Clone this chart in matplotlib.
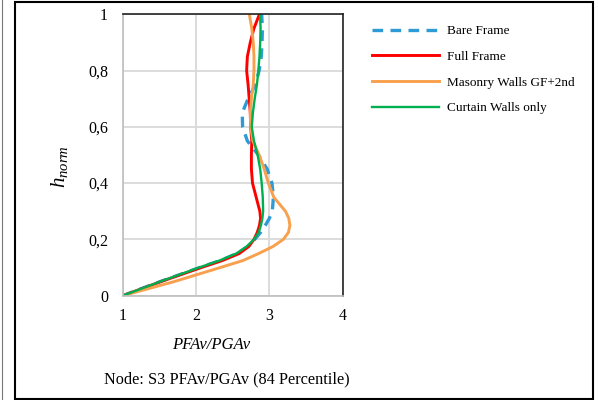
import matplotlib
matplotlib.use('Agg')
import matplotlib.pyplot as plt
from matplotlib.lines import Line2D
from matplotlib.patches import Rectangle

plt.rcParams['font.family'] = ['Liberation Serif', 'DejaVu Serif']
plt.rcParams['mathtext.fontset'] = 'custom'
plt.rcParams['mathtext.it'] = 'Liberation Serif:italic'
plt.rcParams['mathtext.rm'] = 'Liberation Serif'

# normalised height of the nodes
h_norm = [0, 0.05, 0.1, 0.125, 0.15, 0.175, 0.2, 0.225, 0.25, 0.275, 0.3, 0.35,
          0.4, 0.45, 0.5, 0.55, 0.6, 0.65, 0.7, 0.75, 0.8, 0.85, 0.9, 0.95, 1.0]

# PFAv/PGAv at each height, 84th percentile
bare_frame = [1.0, 1.51, 2.05, 2.33, 2.56, 2.71, 2.80, 2.88, 2.945, 3.0, 3.04, 3.055,
              3.035, 2.97, 2.85, 2.70, 2.635, 2.63, 2.71, 2.81, 2.86, 2.89, 2.90, 2.905, 2.895]
full_frame = [1.0, 1.52, 2.07, 2.36, 2.59, 2.72, 2.79, 2.835, 2.865, 2.88, 2.87, 2.82,
              2.77, 2.755, 2.755, 2.76, 2.745, 2.74, 2.725, 2.71, 2.69, 2.70, 2.74, 2.79, 2.864]
masonry_walls = [1.0, 1.70, 2.33, 2.64, 2.855, 3.05, 3.19, 3.26, 3.28, 3.265, 3.22, 3.06,
                 2.986, 2.93, 2.86, 2.775, 2.745, 2.74, 2.755, 2.78, 2.79, 2.79, 2.78, 2.76, 2.727]
curtain_walls = [1.0, 1.51, 2.04, 2.32, 2.55, 2.69, 2.79, 2.855, 2.885, 2.905, 2.915, 2.91,
                 2.895, 2.875, 2.84, 2.79, 2.76, 2.775, 2.80, 2.83, 2.85, 2.865, 2.875, 2.88, 2.873]

labels = ['Bare Frame', 'Full Frame', 'Masonry Walls GF+2nd', 'Curtain Walls only']
x_ticks = [1, 2, 3, 4]
y_ticks = [0, 0.2, 0.4, 0.6, 0.8, 1.0]
y_ticklabels = ['0', '0,2', '0,4', '0,6', '0,8', '1']

W, H = 598, 400
fig = plt.figure(figsize=(W / 100, H / 100), dpi=100)
ax = fig.add_axes([122.7 / W, 1 - 295.7 / H, 220 / W, 281.4 / H])

ax.plot(bare_frame, h_norm, color='#2E9AD6', lw=2.4, ls=(0, (3.2, 2.2)), label=labels[0])
ax.plot(full_frame, h_norm, color='#FF0000', lw=2.1, label=labels[1])
ax.plot(masonry_walls, h_norm, color='#F9A04E', lw=2.1, label=labels[2])
ax.plot(curtain_walls, h_norm, color='#00B050', lw=1.7, label=labels[3])

ax.set_xlim(1, 4)
ax.set_ylim(0, 1)
ax.set_xticks(x_ticks)
ax.set_yticks(y_ticks)
ax.set_yticklabels(y_ticklabels)
ax.grid(color='#d9d9d9', lw=1.3)
ax.set_axisbelow(True)
ax.tick_params(length=0, labelsize=11.5)
ax.tick_params(axis='x', pad=9)
ax.tick_params(axis='y', pad=10.5)

for side in ['top', 'right']:
    ax.spines[side].set_color('#222222')
    ax.spines[side].set_linewidth(1.2)
for side in ['left', 'bottom']:
    ax.spines[side].set_color('#bfbfbf')
    ax.spines[side].set_linewidth(1.2)

fig.text(211 / W, 1 - 345 / H, 'PFAv/PGAv', style='italic', fontsize=12,
         ha='center', va='center')
fig.text(60 / W, 1 - 167 / H, r'$h_{norm}$', fontsize=15, rotation=90,
         ha='center', va='center')
fig.text(104 / W, 1 - 379 / H, 'Node: S3 PFAv/PGAv (84 Percentile)', fontsize=11.7,
         ha='left', va='center')

fig.legend(loc='upper left', bbox_to_anchor=(372 / W, 1 - 25 / H), frameon=False,
           fontsize=9.5, handlelength=5.1, handletextpad=0.55, labelspacing=1.02,
           borderpad=0, borderaxespad=0)

# outer frame
fig.add_artist(Rectangle((15 / W, 1.5 / H), 578 / W, 397 / H, transform=fig.transFigure,
                         fill=False, ec='black', lw=1.5))
fig.add_artist(Line2D([1.5 / W, 1.5 / W], [0, 1], transform=fig.transFigure,
                      color='#777777', lw=0.8))

fig.savefig('out.png', dpi=100)
